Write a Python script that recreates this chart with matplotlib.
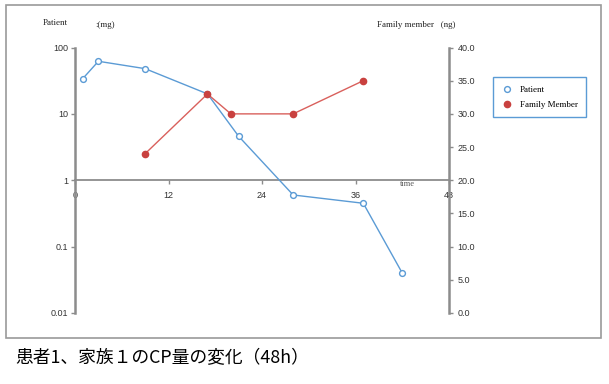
import matplotlib
matplotlib.use('Agg')
import matplotlib.pyplot as plt
from matplotlib.lines import Line2D
from matplotlib.patches import Rectangle

# data
patient_t = [1, 3, 9, 17, 21, 28, 37, 42]
patient_mg = [34, 62, 48, 20, 4.6, 0.6, 0.45, 0.04]
family_t = [9, 17, 20, 28, 37]
family_ng = [24, 33, 30, 30, 35]

x_ticks = [0, 12, 24, 36, 48]
left_ticks = [0.01, 0.1, 1, 10, 100]
left_labels = ['0.01', '0.1', '1', '10', '100']
right_ticks = [0, 5, 10, 15, 20, 25, 30, 35, 40]

blue = '#5b9bd5'
red = '#c9413f'
grey = '#8c8c8c'

fig = plt.figure(figsize=(6.09, 3.84), dpi=100)
ax = fig.add_axes([75 / 609, 1 - 313 / 384, (449 - 75) / 609, (313 - 47.5) / 384])
ax2 = ax.twinx()

ax.plot(patient_t, patient_mg, color=blue, lw=1, marker='o', ms=4.2,
        mfc='white', mec=blue, mew=1, zorder=3)
ax2.plot(family_t, family_ng, color='#d9605c', lw=1, marker='o', ms=4.5,
         mfc=red, mec=red, zorder=3)

ax.set_yscale('log')
ax.set_ylim(0.01, 100)
ax.set_xlim(0, 48)
ax2.set_ylim(0, 40)

ax.set_yticks(left_ticks)
ax.set_yticklabels(left_labels)
ax.minorticks_off()
ax2.set_yticks(right_ticks)
ax2.set_yticklabels(['%.1f' % v for v in right_ticks])
ax.set_xticks(x_ticks)
ax.set_xticklabels([str(v) for v in x_ticks], fontweight='bold')

for a in (ax, ax2):
    a.spines['top'].set_visible(False)
    a.patch.set_visible(False)
ax2.spines['bottom'].set_visible(False)
ax2.spines['left'].set_visible(False)
ax.spines['right'].set_visible(False)
ax.spines['left'].set_color(grey)
ax.spines['left'].set_linewidth(1.8)
ax2.spines['right'].set_color(grey)
ax2.spines['right'].set_linewidth(1.8)
ax.spines['bottom'].set_position(('data', 1))
ax.spines['bottom'].set_color(grey)
ax.spines['bottom'].set_linewidth(1.3)

ax.tick_params(axis='y', length=3, width=1, color=grey, labelsize=6.5,
               labelcolor='#333333', pad=2)
ax2.tick_params(axis='y', length=3, width=1, color=grey, labelsize=6.5,
                labelcolor='#333333', pad=3)
ax.tick_params(axis='x', length=3, width=1, color=grey, labelsize=6.5,
               labelcolor='#333333', pad=5)
for lab in ax.get_yticklabels() + ax2.get_yticklabels() + ax.get_xticklabels():
    lab.set_fontfamily('Liberation Sans')

ax.text(42.7, 1, 'time', fontsize=6, family='Liberation Serif', color='#555555',
        ha='center', va='top')

serif = dict(fontsize=6.5, family='Liberation Serif', color='#222222', va='center')
fig.text(43 / 609, 1 - 23 / 384, 'Patient', **serif)
fig.text(95 / 609, 1 - 25 / 384, ':(mg)', **serif)
fig.text(377 / 609, 1 - 25 / 384, 'Family member   (ng)', **serif)

handles = [
    Line2D([], [], ls='none', marker='o', ms=4.2, mfc='white', mec=blue, mew=1),
    Line2D([], [], ls='none', marker='o', ms=4.5, mfc=red, mec=red),
]
leg = fig.legend(handles, ['Patient', 'Family Member'], loc='upper left',
                 bbox_to_anchor=(493 / 609, 1 - 77.3 / 384), borderaxespad=0,
                 fancybox=False, edgecolor=blue, framealpha=1,
                 prop={'family': 'Liberation Serif', 'size': 6.5},
                 handlelength=1.2, handletextpad=0.9, borderpad=0.9,
                 labelspacing=0.8)
leg.get_frame().set_linewidth(1)

fig.patches.append(Rectangle((6 / 609, 1 - 338 / 384), 595 / 609, 333 / 384,
                             transform=fig.transFigure, fill=False,
                             edgecolor='#9a9a9a', lw=1.2))

fig.text(15 / 609, 1 - 358 / 384, '患者1、家族１のCP量の変化（48h）', fontsize=12.8,
         family=['Noto Sans CJK JP', 'DejaVu Sans'], color='black', va='center')

fig.savefig('out.png', dpi=100)
